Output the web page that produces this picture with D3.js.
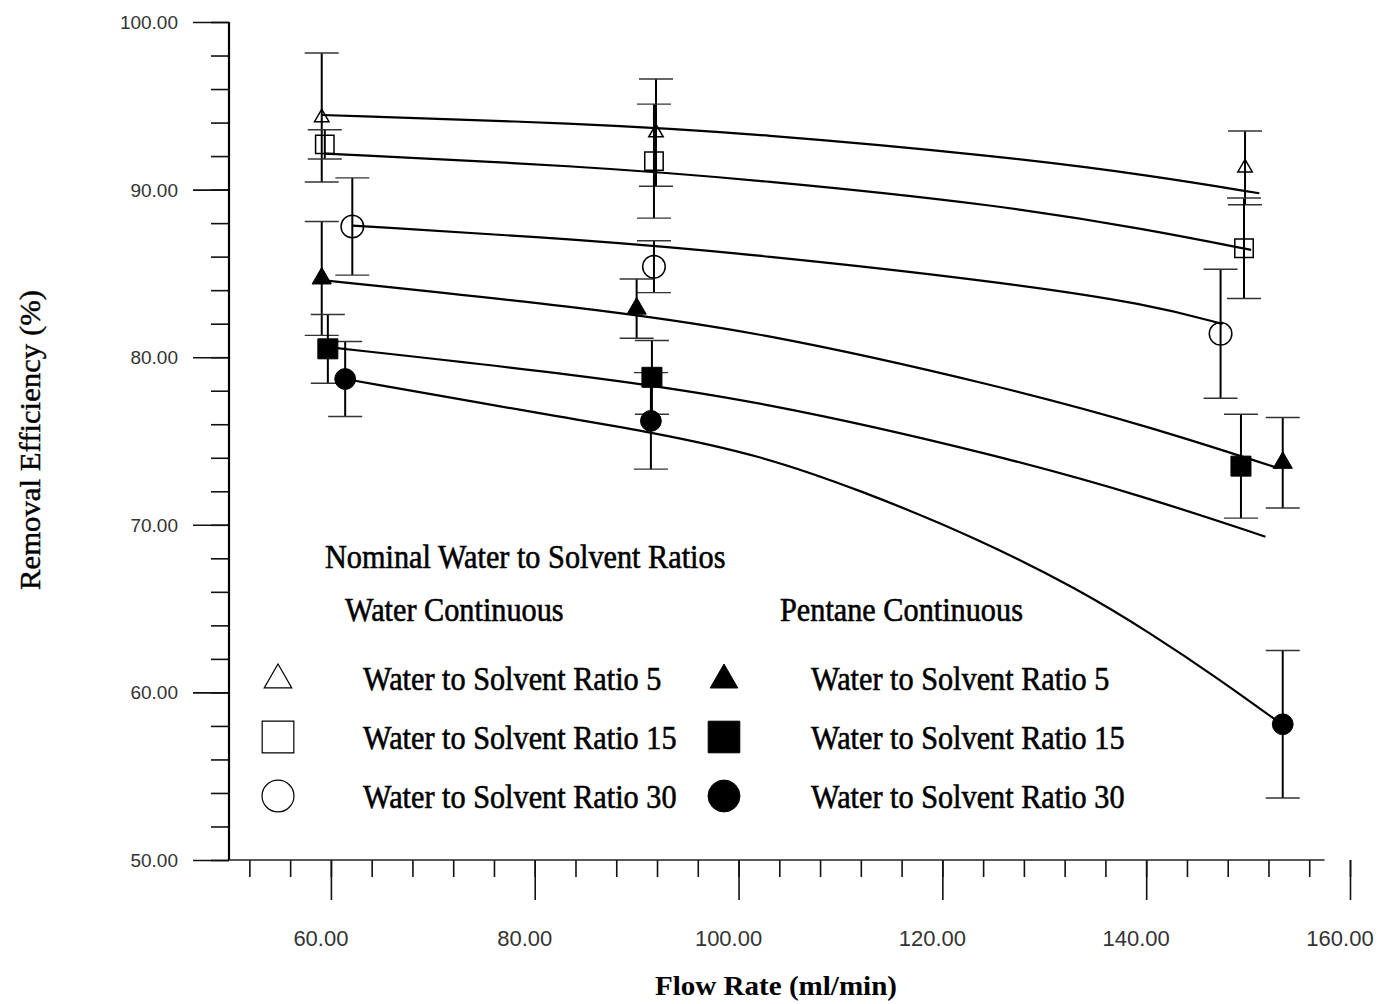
<!DOCTYPE html>
<html><head><meta charset="utf-8">
<script src="https://cdn.jsdelivr.net/npm/d3@7"></script>
<style>body{margin:0;background:#fff}</style></head>
<body>
<svg id="c" width="1386" height="1004"></svg>
<script>
// ---------- DATA ----------
const xMajorTicks = [60, 80, 100, 120, 140, 160];
const xTickLabels = ["60.00", "80.00", "100.00", "120.00", "140.00", "160.00"];
const xMinorTicks = [52,56,60,64,68,72,76,80,84,88,92,96,100,104,108,112,116,120,124,128,132,136,140,144,148,152,156,160];
const yMajorTicks = [50, 60, 70, 80, 90, 100];
const yTickLabels = ["50.00", "60.00", "70.00", "80.00", "90.00", "100.00"];
const yMinorTicks = [50,52,54,56,58,60,62,64,66,68,70,72,74,76,78,80,82,84,86,88,90,92,94,96,98,100];

// Water continuous (open symbols)
const waterR5Flow = [59.1, 91.9, 149.7];
const waterR5Eff  = [94.3, 93.4, 91.3];
const waterR5Err  = [3.85, 3.2, 2.2];
const waterR15Flow = [59.4, 91.7, 149.6];
const waterR15Eff  = [92.7, 91.7, 86.5];
const waterR15Err  = [0.87, 3.4, 3.0];
const waterR30Flow = [62.1, 91.7, 147.3];
const waterR30Eff  = [87.8, 85.4, 81.4];
const waterR30Err  = [2.9, 1.55, 3.85];
// Pentane continuous (filled symbols)
const pentR5Flow = [59.1, 90.0, 153.4];
const pentR5Eff  = [84.7, 82.9, 73.7];
const pentR5Err  = [3.4, 1.77, 2.7];
const pentR15Flow = [59.7, 91.5, 149.3];
const pentR15Eff  = [80.5, 78.8, 73.5];
const pentR15Err  = [2.05, 2.2, 3.1];
const pentR30Flow = [61.4, 91.4, 153.4];
const pentR30Eff  = [78.7, 76.2, 58.1];
const pentR30Err  = [2.24, 2.88, 4.4];

// Fitted curves
const fitWaterR5Flow = [59.1, 84.5, 102.1, 125.7, 140.4, 151.1];
const fitWaterR5Eff  = [94.45, 93.96, 93.32, 92.0, 90.85, 89.78];
const fitWaterR15Flow = [59.4, 84.5, 102.1, 125.7, 140.4, 150.3];
const fitWaterR15Eff  = [92.15, 91.41, 90.57, 89.08, 87.59, 86.40];
const fitWaterR30Flow = [62.1, 84.5, 102.1, 125.7, 140.4, 147.5];
const fitWaterR30Eff  = [87.85, 87.03, 86.10, 84.50, 83.15, 81.98];
const fitPentR5Flow = [59.1, 84.5, 102.1, 125.7, 140.4, 152.9];
const fitPentR5Eff  = [84.6, 83.0, 81.52, 78.28, 75.85, 73.39];
const fitPentR15Flow = [59.7, 84.5, 102.1, 125.7, 140.4, 151.7];
const fitPentR15Eff  = [80.6, 78.94, 77.40, 74.12, 71.58, 69.29];
const fitPentR30Flow = [61.4, 82.5, 91.4, 102.1, 111.9, 123.4, 133.5, 140.4, 147.0, 153.4];
const fitPentR30Eff  = [78.70, 76.43, 75.54, 74.16, 72.08, 69.21, 66.11, 63.54, 60.86, 58.05];

const legendTitle = "Nominal Water to Solvent Ratios";
const groupTitles = ["Water Continuous", "Pentane Continuous"];
const legendLabels = ["Water to Solvent Ratio 5", "Water to Solvent Ratio 15", "Water to Solvent Ratio 30"];
const xTitle = "Flow Rate (ml/min)";
const yTitle = "Removal Efficiency (%)";

// ---------- BUILD ----------
const zip = (f, e, er) => f.map((v, i) => ({x: v, y: e[i], err: er ? er[i] : 0}));
const series = [
  {pts: zip(waterR5Flow, waterR5Eff, waterR5Err), fit: zip(fitWaterR5Flow, fitWaterR5Eff), shape: "tri", filled: false},
  {pts: zip(waterR15Flow, waterR15Eff, waterR15Err), fit: zip(fitWaterR15Flow, fitWaterR15Eff), shape: "sq", filled: false},
  {pts: zip(waterR30Flow, waterR30Eff, waterR30Err), fit: zip(fitWaterR30Flow, fitWaterR30Eff), shape: "circ", filled: false},
  {pts: zip(pentR5Flow, pentR5Eff, pentR5Err), fit: zip(fitPentR5Flow, fitPentR5Eff), shape: "tri", filled: true},
  {pts: zip(pentR15Flow, pentR15Eff, pentR15Err), fit: zip(fitPentR15Flow, fitPentR15Eff), shape: "sq", filled: true},
  {pts: zip(pentR30Flow, pentR30Eff, pentR30Err), fit: zip(fitPentR30Flow, fitPentR30Eff), shape: "circ", filled: true}
];

const svg = d3.select("#c");
svg.append("rect").attr("width", 1386).attr("height", 1004).attr("fill", "#fff");

const x = d3.scaleLinear().domain([50, 160]).range([229, 1350]);
const y = d3.scaleLinear().domain([50, 100]).range([860, 22]);

const symType = {tri: d3.symbolTriangle, sq: d3.symbolSquare, circ: d3.symbolCircle};
const dataSize = {tri: [90, 160], sq: [340, 400], circ: [400, 340]}; // [open, filled]
const legSize = {tri: 330, sq: 1000, circ: 800};

// ---- axes ----
const xAxisMinor = d3.axisBottom(x).tickValues(xMinorTicks).tickSize(17).tickFormat("");
const xAxisMajor = d3.axisBottom(x).tickValues(xMajorTicks).tickSize(40).tickFormat("");
const yAxisMinor = d3.axisLeft(y).tickValues(yMinorTicks).tickSize(18).tickFormat("");
const yAxisMajor = d3.axisLeft(y).tickValues(yMajorTicks).tickSize(36).tickFormat("");

[xAxisMinor, xAxisMajor].forEach(a => {
  const g = svg.append("g").attr("transform", `translate(0,${y(50)})`).call(a);
  g.select(".domain").remove();
  g.selectAll("line").attr("stroke", "#111").attr("stroke-width", 1.6);
});
[yAxisMinor, yAxisMajor].forEach(a => {
  const g = svg.append("g").attr("transform", `translate(${x(50)},0)`).call(a);
  g.select(".domain").remove();
  g.selectAll("line").attr("stroke", "#111").attr("stroke-width", 1.6);
});
// axis lines
svg.append("line").attr("x1", x(50)).attr("x2", x(50)).attr("y1", y(100)).attr("y2", y(50))
  .attr("stroke", "#000").attr("stroke-width", 2.2);
svg.append("line").attr("x1", x(50)).attr("x2", x(157.5)).attr("y1", y(50)).attr("y2", y(50))
  .attr("stroke", "#222").attr("stroke-width", 1.6);

// tick labels
svg.append("g").selectAll("text").data(xMajorTicks).join("text")
  .attr("x", d => x(d) - 10).attr("y", 946)
  .attr("text-anchor", "middle")
  .attr("font-family", "'Liberation Sans', Arial, sans-serif")
  .attr("font-size", 22).attr("fill", "#333")
  .text((d, i) => xTickLabels[i]);
svg.append("g").selectAll("text").data(yMajorTicks).join("text")
  .attr("x", x(50) - 51).attr("y", d => y(d) + 7)
  .attr("text-anchor", "end")
  .attr("font-family", "'Liberation Sans', Arial, sans-serif")
  .attr("font-size", 19).attr("fill", "#333")
  .text((d, i) => yTickLabels[i]);

// axis titles
svg.append("text").attr("x", 776).attr("y", 995).attr("text-anchor", "middle")
  .attr("font-family", "'Liberation Serif', 'Times New Roman', serif")
  .attr("font-weight", "bold").attr("font-size", 27).attr("fill", "#000")
  .attr("textLength", 242).attr("lengthAdjust", "spacingAndGlyphs")
  .text(xTitle);
svg.append("text").attr("transform", "translate(40,440) rotate(-90)")
  .attr("text-anchor", "middle")
  .attr("font-family", "'Liberation Serif', 'Times New Roman', serif")
  .attr("font-size", 29).attr("fill", "#000")
  .attr("stroke", "#000").attr("stroke-width", 0.4)
  .attr("textLength", 300).attr("lengthAdjust", "spacingAndGlyphs")
  .text(yTitle);

// ---- fitted curves ----
const line = d3.line().x(d => x(d.x)).y(d => y(d.y)).curve(d3.curveBasis);
svg.append("g").selectAll("path").data(series).join("path")
  .attr("d", s => line(s.fit)).attr("fill", "none")
  .attr("stroke", "#000").attr("stroke-width", 2.2);

// ---- error bars ----
const eb = svg.append("g");
series.forEach(s => {
  s.pts.forEach(p => {
    eb.append("line").attr("x1", x(p.x)).attr("x2", x(p.x))
      .attr("y1", y(p.y + p.err)).attr("y2", y(p.y - p.err))
      .attr("stroke", "#000").attr("stroke-width", 2);
    [p.y + p.err, p.y - p.err].forEach(v => {
      eb.append("line").attr("x1", x(p.x) - 17).attr("x2", x(p.x) + 17)
        .attr("y1", y(v)).attr("y2", y(v))
        .attr("stroke", "#333").attr("stroke-width", 1.4);
    });
  });
});

// ---- markers ----
const mk = svg.append("g");
series.forEach(s => {
  mk.selectAll(null).data(s.pts).join("path")
    .attr("transform", p => `translate(${x(p.x)},${y(p.y)})`)
    .attr("d", d3.symbol().type(symType[s.shape]).size(dataSize[s.shape][s.filled ? 1 : 0]))
    .attr("fill", s.filled ? "#000" : "none")
    .attr("stroke", "#000").attr("stroke-width", s.filled ? 1 : 1.5);
});

// ---- legend ----
const serif = "'Liberation Serif', 'Times New Roman', serif";
function condense(sel, k) {
  sel.each(function () {
    const w = this.getComputedTextLength();
    d3.select(this).attr("textLength", w * k).attr("lengthAdjust", "spacingAndGlyphs");
  });
}
const lg = svg.append("g").attr("fill", "#000").attr("stroke", "#000");
function legText(xp, yp, t) {
  lg.append("text").attr("x", xp).attr("y", yp).attr("font-family", serif)
    .attr("font-size", 34).attr("stroke-width", 0.6).text(t).call(condense, 0.89);
}
legText(325, 568, legendTitle);
legText(345, 621, groupTitles[0]);
legText(780, 621, groupTitles[1]);

const rowY = [678, 737, 796];
const shapes = ["tri", "sq", "circ"];
[{sx: 278, tx: 363, filled: false}, {sx: 724, tx: 811, filled: true}].forEach(col => {
  shapes.forEach((sh, i) => {
    lg.append("path")
      .attr("transform", `translate(${col.sx},${rowY[i] + (sh === "tri" ? 2 : 0)})`)
      .attr("d", d3.symbol().type(symType[sh]).size(legSize[sh]))
      .attr("fill", col.filled ? "#000" : "none")
      .attr("stroke-width", col.filled ? 1 : 1.2);
    legText(col.tx, rowY[i] + 12, legendLabels[i]);
  });
});
</script>
</body></html>
